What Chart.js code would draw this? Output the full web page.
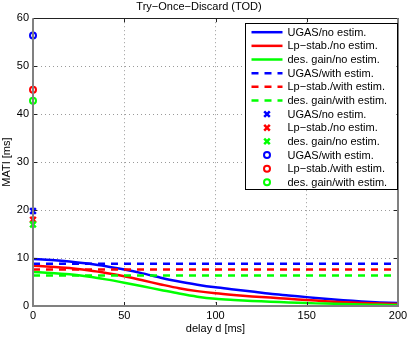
<!DOCTYPE html>
<html>
<head>
<meta charset="utf-8">
<script src="https://cdn.jsdelivr.net/npm/chart.js@4.4.0/dist/chart.umd.min.js"></script>
<style>
  html, body { margin: 0; padding: 0; background: #fff; }
  #wrap { width: 407px; height: 338px; }
</style>
</head>
<body>
<div id="wrap"><canvas id="chart"></canvas></div>
<script>
// delay d [ms] for the solid curves
const delays = [0, 10, 20, 30, 40, 50, 60, 70, 80, 90, 100, 110, 120, 130, 140, 150, 160, 170, 180, 190, 200];
const ugasNoEst = [9.8, 9.6, 9.3, 8.85, 8.3, 7.6, 6.8, 5.9, 5.1, 4.45, 3.9, 3.45, 3.0, 2.55, 2.2, 1.85, 1.5, 1.2, 0.95, 0.75, 0.6];
const lpNoEst = [8.4, 8.2, 7.9, 7.45, 6.9, 6.2, 5.35, 4.5, 3.7, 3.1, 2.65, 2.3, 2.0, 1.75, 1.5, 1.25, 1.0, 0.8, 0.65, 0.5, 0.4];
const gainNoEst = [7.1, 6.9, 6.6, 6.15, 5.55, 4.85, 4.1, 3.35, 2.6, 1.95, 1.5, 1.25, 1.05, 0.9, 0.75, 0.6, 0.5, 0.4, 0.32, 0.25, 0.2];

// with estimation: flat over the delay range
const estDelays = [0, 200];
const ugasWithEst = [8.8, 8.8];
const lpWithEst = [7.6, 7.6];
const gainWithEst = [6.35, 6.35];

// single markers at d = 0
const markerDelay = [0];
const ugasNoEstPt = [19.8];
const lpNoEstPt = [18.0];
const gainNoEstPt = [17.0];
const ugasWithEstPt = [56.4];
const lpWithEstPt = [45.1];
const gainWithEstPt = [42.8];

const xTicks = [0, 50, 100, 150, 200];
const yTicks = [0, 10, 20, 30, 40, 50, 60];

const BLUE = '#0000ff', RED = '#ff0000', GREEN = '#00ff00';
const FONT = 'Liberation Sans, Arial, Helvetica, sans-serif';

function pts(xs, ys) {
  return xs.map((x, i) => ({ x: x, y: ys[i] }));
}

function lineSet(label, xs, ys, color, dash) {
  return {
    label: label,
    data: pts(xs, ys),
    borderColor: color,
    backgroundColor: color,
    borderWidth: 2.5,
    borderDash: dash || [],
    pointRadius: 0,
    tension: dash ? 0 : 0.3,
    showLine: true
  };
}

function markerSet(label, ys, color, style) {
  return {
    label: label,
    data: pts(markerDelay, ys),
    borderColor: color,
    backgroundColor: style === 'circle' ? 'rgba(0,0,0,0)' : color,
    pointStyle: style,
    pointRadius: style === 'circle' ? 3 : 4,
    borderWidth: style === 'circle' ? 2 : 2.5,
    showLine: false,
    clip: false
  };
}

const datasets = [
  lineSet('UGAS/no estim.', delays, ugasNoEst, BLUE),
  lineSet('Lp\u2212stab./no estim.', delays, lpNoEst, RED),
  lineSet('des. gain/no estim.', delays, gainNoEst, GREEN),
  lineSet('UGAS/with estim.', estDelays, ugasWithEst, BLUE, [7, 6]),
  lineSet('Lp\u2212stab./with estim.', estDelays, lpWithEst, RED, [7, 6]),
  lineSet('des. gain/with estim.', estDelays, gainWithEst, GREEN, [7, 6]),
  markerSet('UGAS/no estim.', ugasNoEstPt, BLUE, 'crossRot'),
  markerSet('Lp\u2212stab./no estim.', lpNoEstPt, RED, 'crossRot'),
  markerSet('des. gain/no estim.', gainNoEstPt, GREEN, 'crossRot'),
  markerSet('UGAS/with estim.', ugasWithEstPt, BLUE, 'circle'),
  markerSet('Lp\u2212stab./with estim.', lpWithEstPt, RED, 'circle'),
  markerSet('des. gain/with estim.', gainWithEstPt, GREEN, 'circle')
];
// later series on top, like the plotting order
datasets.forEach((d, i) => { d.order = -i; });

// box around the axes plus inward tick marks
const framePlugin = {
  id: 'frame',
  afterDatasetsDraw(chart) {
    const { ctx, chartArea: a, scales: { x, y } } = chart;
    ctx.save();
    ctx.strokeStyle = '#222';
    ctx.lineWidth = 1;
    ctx.beginPath();
    xTicks.forEach(v => {
      const px = Math.round(x.getPixelForValue(v)) + 0.5;
      ctx.moveTo(px, a.bottom); ctx.lineTo(px, a.bottom - 4);
      ctx.moveTo(px, a.top); ctx.lineTo(px, a.top + 4);
    });
    yTicks.forEach(v => {
      const py = Math.round(y.getPixelForValue(v)) + 0.5;
      ctx.moveTo(a.left, py); ctx.lineTo(a.left + 4, py);
      ctx.moveTo(a.right, py); ctx.lineTo(a.right - 4, py);
    });
    ctx.stroke();
    // top: thin dark
    ctx.beginPath();
    ctx.moveTo(a.left, Math.round(a.top) + 0.5);
    ctx.lineTo(a.right, Math.round(a.top) + 0.5);
    ctx.stroke();
    // left, bottom and right: heavier grey
    ctx.strokeStyle = '#808080';
    ctx.lineWidth = 2;
    ctx.beginPath();
    ctx.moveTo(Math.round(a.left), a.top);
    ctx.lineTo(Math.round(a.left), Math.round(a.bottom));
    ctx.lineTo(Math.round(a.right), Math.round(a.bottom));
    ctx.lineTo(Math.round(a.right), a.top);
    ctx.stroke();
    ctx.restore();
  }
};

// MATLAB style legend box in the upper right corner of the axes
const boxLegend = {
  id: 'boxLegend',
  afterDraw(chart) {
    const { ctx, chartArea: a } = chart;
    const sets = chart.data.datasets;
    const rowH = 13.65;
    const right = a.right - 1.5;
    const left = right - 152;
    const top = a.top + 5;
    const bottom = top + sets.length * rowH + 2.5;
    ctx.save();
    ctx.fillStyle = '#fff';
    ctx.fillRect(left, top, right - left, bottom - top);
    ctx.strokeStyle = '#000';
    ctx.lineWidth = 1;
    ctx.strokeRect(Math.round(left) + 0.5, Math.round(top) + 0.5, Math.round(right - left), Math.round(bottom - top));
    ctx.font = '11px ' + FONT;
    ctx.textBaseline = 'middle';
    ctx.textAlign = 'left';
    sets.forEach((d, i) => {
      const cy = top + 9 + i * rowH;
      const x0 = left + 7, x1 = left + 38, xm = (x0 + x1) / 2;
      ctx.strokeStyle = d.borderColor;
      if (d.showLine) {
        ctx.lineWidth = d.borderWidth;
        ctx.setLineDash(d.borderDash);
        ctx.beginPath();
        ctx.moveTo(x0, cy); ctx.lineTo(x1, cy);
        ctx.stroke();
        ctx.setLineDash([]);
      } else if (d.pointStyle === 'circle') {
        ctx.lineWidth = d.borderWidth;
        ctx.beginPath();
        ctx.arc(xm, cy, d.pointRadius, 0, Math.PI * 2);
        ctx.stroke();
      } else {
        const r = d.pointRadius * 0.7;
        ctx.lineWidth = d.borderWidth;
        ctx.beginPath();
        ctx.moveTo(xm - r, cy - r); ctx.lineTo(xm + r, cy + r);
        ctx.moveTo(xm - r, cy + r); ctx.lineTo(xm + r, cy - r);
        ctx.stroke();
      }
      ctx.fillStyle = '#000';
      ctx.fillText(d.label, left + 43, cy + 0.5);
    });
    ctx.restore();
  }
};

const tickFont = { family: FONT, size: 11 };

new Chart(document.getElementById('chart'), {
  type: 'line',
  data: { datasets: datasets },
  options: {
    responsive: true,
    maintainAspectRatio: false,
    animation: false,
    devicePixelRatio: 1,
    layout: { padding: { top: 0, right: 9, left: 0, bottom: 0 } },
    plugins: {
      legend: { display: false },
      tooltip: { enabled: false },
      title: {
        display: true,
        text: 'Try\u2212Once\u2212Discard (TOD)',
        color: '#000',
        font: { family: FONT, size: 11, weight: 'normal' },
        padding: { top: 0, bottom: 5 }
      }
    },
    scales: {
      x: {
        type: 'linear',
        min: 0,
        max: 200,
        afterFit(s) { s.height = 32; s.paddingLeft = 0; s.paddingRight = 0; },
        afterBuildTicks(s) { s.ticks = xTicks.map(v => ({ value: v })); },
        ticks: { color: '#000', font: tickFont, padding: 3, maxRotation: 0 },
        grid: { color: '#9a9a9a', lineWidth: 1, drawTicks: false },
        border: { display: false, dash: [1, 3] },
        title: { display: true, text: 'delay d [ms]', color: '#000', font: tickFont, padding: { top: 0, bottom: 2 } }
      },
      y: {
        min: 0,
        max: 60,
        afterFit(s) { s.width = 33; s.paddingTop = 0; s.paddingBottom = 0; },
        afterBuildTicks(s) { s.ticks = yTicks.map(v => ({ value: v })); },
        ticks: { color: '#000', font: tickFont, padding: 4 },
        grid: { color: '#9a9a9a', lineWidth: 1, drawTicks: false },
        border: { display: false, dash: [1, 3] },
        title: { display: true, text: 'MATI [ms]', color: '#000', font: tickFont, padding: { top: 0, bottom: 0 } }
      }
    }
  },
  plugins: [framePlugin, boxLegend]
});
</script>
</body>
</html>
